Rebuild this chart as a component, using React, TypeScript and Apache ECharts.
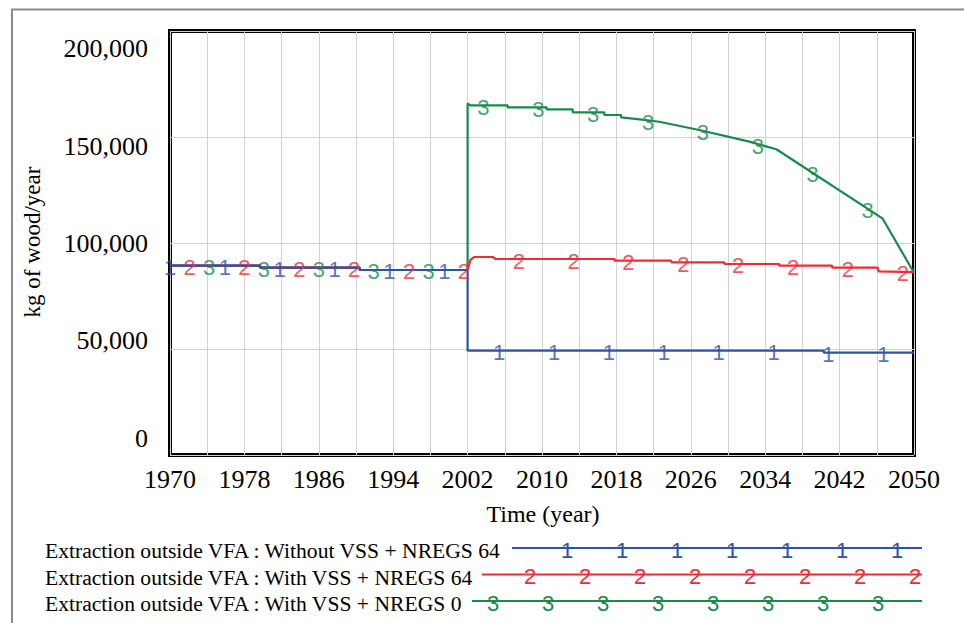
import React, { useEffect, useRef } from "react";
import * as echarts from "echarts";

// ---------------- data ----------------
const seriesNames = [
  "Extraction outside VFA : Without VSS + NREGS 64",
  "Extraction outside VFA : With VSS + NREGS 64",
  "Extraction outside VFA : With VSS + NREGS 0",
];
const seriesColors = ["#2f52a6", "#ee2b36", "#178a4c"];
const markerGlyphs = ["1", "2", "3"];

// Series 1 (blue)
const blueYears = [1970, 1979.7, 1979.7, 1990.4, 1990.4, 2002, 2002, 2040.3, 2040.3, 2050];
const blueValues = [89300, 89300, 88350, 88350, 87270, 87270, 49200, 49200, 48260, 48260];

// Series 2 (red)
const redYears = [1970, 1979.7, 1979.7, 1990.4, 1990.4, 2002, 2002.3, 2002.7, 2004.7, 2005.0, 2017.8, 2017.8, 2023.9, 2023.9, 2029.6, 2029.6, 2035.5, 2035.5, 2041.2, 2041.2, 2046.1, 2046.2, 2050];
const redValues = [89300, 89300, 88350, 88350, 87270, 87270, 92000, 93400, 93400, 92450, 92450, 91650, 91650, 90900, 90900, 90100, 90100, 89300, 89300, 88350, 88350, 86600, 86300];

// Series 3 (green)
const greenYears = [1970, 1979.7, 1979.7, 1990.4, 1990.4, 2002, 2002, 2002.3, 2006.3, 2006.3, 2010.5, 2010.5, 2013.3, 2013.3, 2016.7, 2016.7, 2018.5, 2018.5, 2020.5, 2022.6, 2026.9, 2032.3, 2035.2, 2046.6, 2050];
const greenValues = [89300, 89300, 88350, 88350, 87270, 87270, 165900, 164950, 164950, 164000, 164000, 163070, 163070, 161650, 161650, 160380, 160380, 159300, 158350, 157200, 153300, 147800, 144200, 111650, 86000];

// marker positions (years) of the number glyphs on each line
const blueMarkerYears = [1970, 1975.9, 1981.8, 1987.7, 1993.6, 1999.5, 2005.4, 2011.3, 2017.2, 2023.1, 2029, 2034.9, 2040.8, 2046.7];
const redMarkerYears = [1972.1, 1978, 1983.9, 1989.8, 1995.7, 2001.6, 2007.5, 2013.4, 2019.3, 2025.2, 2031.1, 2037, 2042.9, 2048.8];
const greenMarkerYears = [1974.2, 1980.1, 1986, 1991.9, 1997.8, 2003.7, 2009.6, 2015.5, 2021.4, 2027.3, 2033.2, 2039.1, 2045];

// axes
const xStartYear = 1970;
const xEndYear = 2050;
const xGridStep = 4;
const xLabelStep = 8;
const yTicks = [0, 50000, 100000, 150000, 200000];
const yAxisTitle = "kg of wood/year";
const xAxisTitle = "Time (year)";

// ---------------- helpers ----------------
function valueAt(xs: number[], ys: number[], t: number): number {
  for (let i = 0; i < xs.length - 1; i++) {
    if (xs[i + 1] > xs[i] && t >= xs[i] && t <= xs[i + 1]) {
      const f = (t - xs[i]) / (xs[i + 1] - xs[i]);
      return ys[i] + f * (ys[i + 1] - ys[i]);
    }
  }
  return ys[ys.length - 1];
}

const SERIF = "'Liberation Serif', 'Times New Roman', serif";
const SANS = "'Liberation Sans', Arial, sans-serif";
const MARKER_FONT = 22;

export default function App() {
  const ref = useRef<HTMLDivElement>(null);

  useEffect(() => {
    if (!ref.current) return;
    const chart = echarts.init(ref.current, null, { renderer: "svg" });

    const seriesXs = [blueYears, redYears, greenYears];
    const seriesYs = [blueValues, redValues, greenValues];
    const markerYears = [blueMarkerYears, redMarkerYears, greenMarkerYears];

    const lineSeries: any[] = [];
    // draw green first, then red, then blue on top
    [2, 1, 0].forEach((s) => {
      lineSeries.push({
        type: "line",
        name: seriesNames[s],
        data: seriesXs[s].map((yr, i) => [yr - xStartYear, seriesYs[s][i]]),
        symbol: "none",
        showSymbol: false,
        lineStyle: { color: seriesColors[s], width: 2.2 },
        itemStyle: { color: seriesColors[s] },
        z: 3 + (2 - s),
        silent: true,
      });
    });
    const markerSeries: any[] = [0, 1, 2].map((s) => ({
      type: "scatter",
      name: "m" + s,
      data: markerYears[s].map((yr) => [yr - xStartYear, valueAt(seriesXs[s], seriesYs[s], yr)]),
      symbol: "circle",
      symbolSize: 0.1,
      itemStyle: { color: "rgba(0,0,0,0)" },
      label: {
        show: true,
        position: "inside",
        formatter: markerGlyphs[s],
        color: seriesColors[s],
        fontSize: MARKER_FONT,
        fontFamily: SANS,
        offset: [0, 2],
      },
      z: 10,
      silent: true,
      clip: false,
    }));

    // legend graphics
    const legendRowY = [548, 574.5, 601];
    const legendLineStart = [512, 482, 472];
    const legendLineEnd = 922;
    const legendMarkerStart = [567, 530, 493];
    const legendMarkerCount = [7, 8, 8];
    const legendMarkerGap = 55;
    const legendGraphics: any[] = [];
    for (let s = 0; s < 3; s++) {
      legendGraphics.push({
        type: "text",
        x: 45,
        y: legendRowY[s] + 3,
        style: {
          text: seriesNames[s],
          font: `21.6px ${SERIF}`,
          fill: "#000",
          align: "left",
          verticalAlign: "middle",
        },
      });
      legendGraphics.push({
        type: "line",
        shape: { x1: legendLineStart[s], y1: legendRowY[s], x2: legendLineEnd, y2: legendRowY[s] },
        style: { stroke: seriesColors[s], lineWidth: 2.2 },
      });
      for (let k = 0; k < legendMarkerCount[s]; k++) {
        legendGraphics.push({
          type: "text",
          x: legendMarkerStart[s] + k * legendMarkerGap,
          y: legendRowY[s] + 2,
          style: {
            text: markerGlyphs[s],
            font: `${MARKER_FONT}px ${SANS}`,
            fill: seriesColors[s],
            align: "center",
            verticalAlign: "middle",
          },
        });
      }
    }

    const yShift = [-17, -9, 0, 9, 17];
    const rich: any = {};
    yShift.forEach((d, i) => {
      rich["s" + i] = {
        fontSize: 26,
        fontFamily: SERIF,
        color: "#000",
        padding: d >= 0 ? [2 * d, 0, 0, 0] : [0, 0, -2 * d, 0],
      };
    });

    const option: any = {
      animation: false,
      backgroundColor: "#fff",
      grid: {
        left: 170,
        right: 50,
        top: 31,
        bottom: 168,
        show: true,
        borderColor: "#000",
        borderWidth: 4,
        backgroundColor: "transparent",
        containLabel: false,
      },
      xAxis: {
        type: "value",
        min: 0,
        max: xEndYear - xStartYear,
        interval: xGridStep,
        axisLine: { show: false },
        axisTick: { show: false },
        splitLine: { show: true, lineStyle: { color: "#d2d2d2", width: 1 } },
        axisLabel: {
          show: true,
          margin: 11,
          fontSize: 26,
          fontFamily: SERIF,
          color: "#000",
          formatter: (v: number) => (v % xLabelStep === 0 ? String(v + xStartYear) : ""),
        },
      },
      yAxis: {
        type: "value",
        min: yTicks[0],
        max: yTicks[yTicks.length - 1],
        interval: yTicks[1] - yTicks[0],
        axisLine: { show: false },
        axisTick: { show: false },
        splitLine: { show: true, lineStyle: { color: "#d2d2d2", width: 1 } },
        axisLabel: {
          show: true,
          margin: 22,
          fontSize: 26,
          fontFamily: SERIF,
          color: "#000",
          formatter: (v: number) => {
            const i = yTicks.indexOf(v);
            return `{s${i}|${v.toLocaleString("en-US")}}`;
          },
          rich,
        },
      },
      series: [...lineSeries, ...markerSeries],
      graphic: [
        {
          type: "polyline",
          shape: { points: [[12, 623], [12, 9.5], [964, 9.5]] },
          style: { stroke: "#8a8a8a", lineWidth: 2, fill: "none" },
          silent: true,
        },
        {
          type: "text",
          x: 32,
          y: 242,
          rotation: Math.PI / 2,
          style: {
            text: yAxisTitle,
            font: `23px ${SERIF}`,
            fill: "#000",
            align: "center",
            verticalAlign: "middle",
          },
        },
        {
          type: "text",
          x: 543,
          y: 514,
          style: {
            text: xAxisTitle,
            font: `24px ${SERIF}`,
            fill: "#000",
            align: "center",
            verticalAlign: "middle",
          },
        },
        ...legendGraphics,
      ],
    };

    chart.setOption(option);
    return () => chart.dispose();
  }, []);

  return (
    <div
      ref={ref}
      style={{ position: "absolute", left: 0, top: 0, width: 964, height: 623, background: "#fff" }}
    />
  );
}
